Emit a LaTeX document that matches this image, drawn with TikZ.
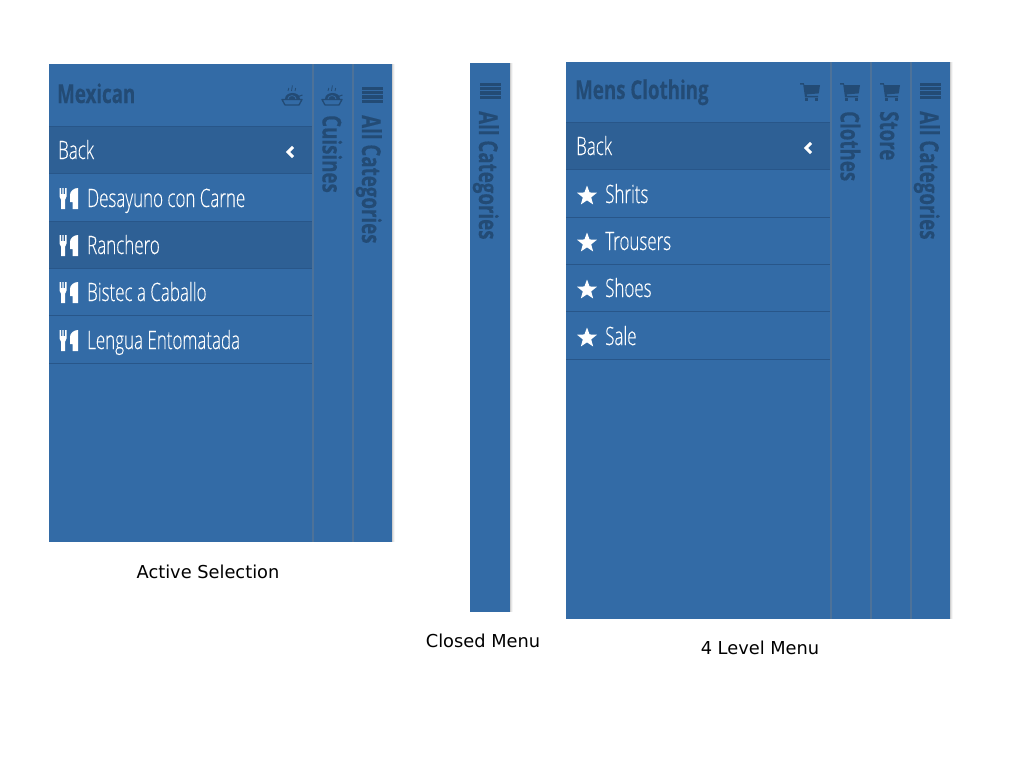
\documentclass[tikz,border=0pt]{standalone}
\usepackage{fontspec}
\setmainfont{DejaVu Sans}
\newfontfamily\itemfont[FakeStretch=0.67,FakeBold=0.15]{Open Sans Light}
\newfontfamily\headfont[FakeStretch=0.72,BoldFont={Open Sans Bold},BoldFeatures={FakeBold=0.25}]{Open Sans}
\definecolor{panel}{HTML}{336BA6}
\definecolor{rowdark}{HTML}{2E6095}
\definecolor{rowline}{HTML}{285689}
\definecolor{divider}{HTML}{4D7299}
\definecolor{inktitle}{HTML}{234B75}
\definecolor{shadeA}{HTML}{CFCFCF}
\definecolor{shadeB}{HTML}{E6E6E6}
\definecolor{shadeC}{HTML}{F6F6F6}
\tikzset{
  x=1pt,y=-1pt,
  panelbox/.style={fill=panel,draw=none,inner sep=0,outer sep=0,anchor=north west},
  rowbox/.style={fill=rowdark,draw=none,inner sep=0,outer sep=0,anchor=north west},
  itemtext/.style={text=white,inner sep=0,anchor=base west,font=\itemfont\fontsize{25.3}{25}\selectfont},
  titletext/.style={text=inktitle,inner sep=0,anchor=base west,font=\headfont\bfseries\fontsize{26}{26}\selectfont},
  sidetext/.style={text=inktitle,inner sep=0,anchor=base west,rotate=-90,font=\headfont\bfseries\fontsize{26}{26}\selectfont},
  captext/.style={text=black,inner sep=0,anchor=center,font=\fontsize{17.8}{18}\selectfont},
  sepline/.style={draw=rowline,line width=1pt},
  divline/.style={draw=divider,line width=2.4pt},
  pics/softshade/.style={code={
    \fill[shadeC] (0,0) rectangle (3,#1);
    \fill[shadeB] (0,0) rectangle (2,#1);
    \fill[shadeA] (0,0) rectangle (1,#1);
  }},
  pics/bars/.style={code={
    \foreach \yy in {-8,-3.8,0.4,4.6}{\fill[inktitle] (-10.5,\yy) rectangle (10.5,\yy+3.2);}
  }},
  pics/bowl/.style={code={
    \draw[inktitle,line width=1.3pt,line join=round] (-10,3.5) -- (10,3.5) -- (7,9) -- (-7,9) -- cycle;
    \fill[inktitle] (-7.5,3) .. controls (-7.5,-5) and (7.5,-5) .. (7.5,3) -- cycle;
    \draw[panel,line width=.7pt] (-4,3) .. controls (-4,-1.5) and (4,-1.5) .. (4,3);
    \draw[inktitle,line width=1pt] (5,1) -- (10.5,-1);
    \draw[inktitle,line width=.8pt] (-4,-5) -- (-3.2,-8);
    \draw[inktitle,line width=.8pt] (-0.5,-5) -- (0.4,-10.5);
    \draw[inktitle,line width=.8pt] (3,-5) -- (3.7,-8);
  }},
  pics/cart/.style={code={
    \fill[inktitle] (-10,-8) -- (-6.3,-8) -- (-5.6,-6) -- (10,-6) -- (8.8,2.4) -- (-3.4,3.4) -- (-3,4.8) -- (8.2,4.8) -- (8.2,6.3) -- (-5,6.3) -- (-6.8,-6.4) -- (-10,-6.4) -- cycle;
    \fill[inktitle] (-4.8,7) rectangle (-1.6,9.8);
    \fill[inktitle] (4.8,7) rectangle (8,9.8);
  }},
  pics/chevron/.style={code={
    \draw[white,line width=3pt,line cap=butt,line join=miter] (3,-5) -- (-2,0) -- (3,5);
  }},
  pics/utensils/.style={code={
    \fill[white] (-8.5,-11) -- (-7,-11) -- (-7,-5) -- (-5.6,-5) -- (-5.6,-11) -- (-4.4,-11) -- (-4.4,-5) -- (-3,-5) -- (-3,-11) -- (-1.5,-11) -- (-1.5,-2.5) .. controls (-1.5,-0.5) and (-2,0.2) .. (-3,1) -- (-3,10) -- (-6.8,10) -- (-6.8,1) .. controls (-7.8,0.2) and (-8.5,-0.5) .. (-8.5,-2.5) -- cycle;
    \fill[white] (10,-11) -- (10,10) -- (4.5,10) -- (4.5,3) -- (2,3) -- (2,-4) .. controls (2,-8) and (6,-11) .. (10,-11) -- cycle;
  }},
  pics/starmark/.style={code={
    \fill[white] (-90:10.5) -- (-54:4.4) -- (-18:10.5) -- (18:4.4) -- (54:10.5) -- (90:4.4) -- (126:10.5) -- (162:4.4) -- (198:10.5) -- (234:4.4) -- cycle;
  }}
}
\begin{document}
\begin{tikzpicture}
\useasboundingbox (0,0) rectangle (1024,768);
\fill[white] (0,0) rectangle (1024,768);
% ---- left menu
\pic at (392,64) {softshade=478};
\node[panelbox,minimum width=343pt,minimum height=478pt] (menuA) at (49,64) {};
\node[rowbox,minimum width=264pt,minimum height=47pt] (backA) at (49,126.5) {};
\node[rowbox,minimum width=264pt,minimum height=47pt] (ranch) at (49,221.5) {};
\foreach \yy in {126.5,173.5,221.5,268.5,315.5,363.5}{\draw[sepline] (49,\yy) -- (313,\yy);}
\draw[divline] (313,64) -- (313,542);
\draw[divline] (353,64) -- (353,542);
\node[titletext] (tA) at (57,103) {Mexican};
\pic at (292,96) {bowl};
\pic at (332,96) {bowl};
\pic at (372,95) {bars};
\node[sidetext] (cuis) at (322.5,115) {Cuisines};
\node[sidetext] (allA) at (362,115) {All Categories};
\node[itemtext] (bA) at (58,159) {Back};
\pic at (290,152) {chevron};
\pic at (68,199) {utensils};
\pic at (68,246) {utensils};
\pic at (68,293) {utensils};
\pic at (68,341) {utensils};
\node[itemtext] (a1) at (87,207) {Desayuno con Carne};
\node[itemtext] (a2) at (87,254) {Ranchero};
\node[itemtext] (a3) at (87,301) {Bistec a Caballo};
\node[itemtext] (a4) at (87,349) {Lengua Entomatada};
\node[captext] (capA) at (208,571.5) {Active Selection};
% ---- closed menu
\pic at (510,62.5) {softshade=549};
\node[panelbox,minimum width=40pt,minimum height=549pt] (menuB) at (470,62.5) {};
\pic at (490,91) {bars};
\node[sidetext] (allB) at (479,111) {All Categories};
\node[captext] (capB) at (483,640.5) {Closed Menu};
% ---- four level menu
\pic at (950,62) {softshade=557};
\node[panelbox,minimum width=384pt,minimum height=557pt] (menuC) at (566,62) {};
\node[rowbox,minimum width=264pt,minimum height=47pt] (backC) at (566,122.5) {};
\foreach \yy in {122.5,169.5,217.5,264.5,311.5,359.5}{\draw[sepline] (566,\yy) -- (830,\yy);}
\draw[divline] (831,62) -- (831,619);
\draw[divline] (871,62) -- (871,619);
\draw[divline] (911,62) -- (911,619);
\node[titletext] (tC) at (575,99) {Mens Clothing};
\pic at (810,91) {cart};
\pic at (850,91) {cart};
\pic at (890,91) {cart};
\pic at (930,91) {bars};
\node[sidetext] (cloth) at (840.5,111) {Clothes};
\node[sidetext] (store) at (880,111) {Store};
\node[sidetext] (allC) at (920,111) {All Categories};
\node[itemtext] (bC) at (576,155) {Back};
\pic at (808,148) {chevron};
\pic at (587,196) {starmark};
\pic at (587,243) {starmark};
\pic at (587,290) {starmark};
\pic at (587,338) {starmark};
\node[itemtext] (c1) at (605,203) {Shrits};
\node[itemtext] (c2) at (605,250) {Trousers};
\node[itemtext] (c3) at (605,297) {Shoes};
\node[itemtext] (c4) at (605,345) {Sale};
\node[captext] (capC) at (760,647.5) {4 Level Menu};
\end{tikzpicture}
\end{document}
